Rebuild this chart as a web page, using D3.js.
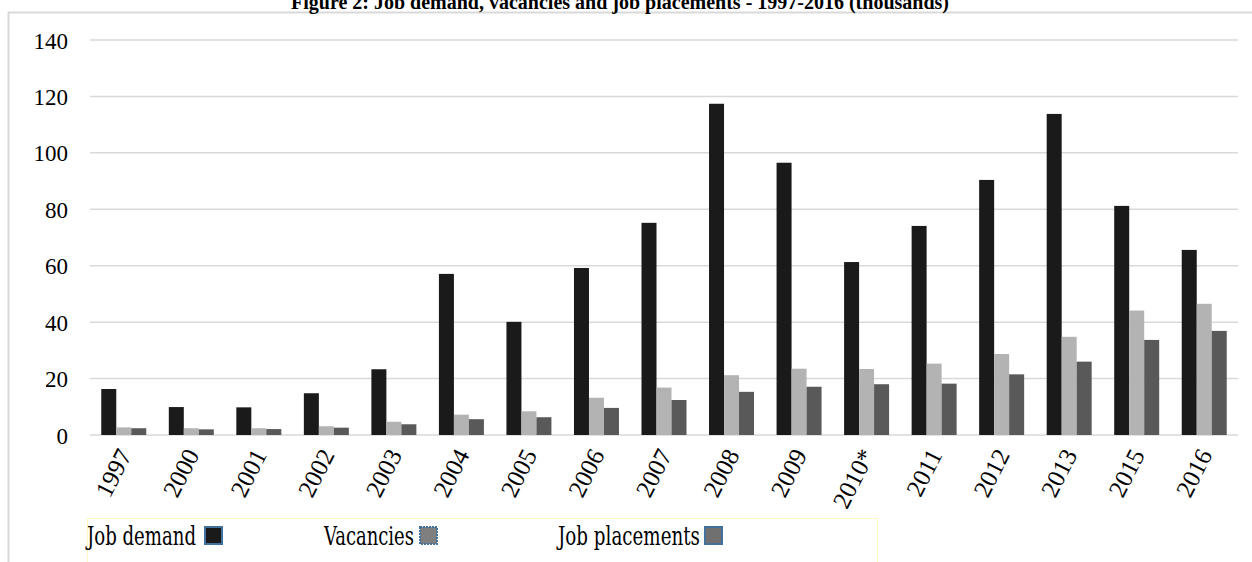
<!DOCTYPE html>
<html><head><meta charset="utf-8">
<script src="https://cdn.jsdelivr.net/npm/d3@7"></script>
<style>body{margin:0;background:#fff;overflow:hidden}svg{display:block}
.serif{font-family:"Liberation Serif","Times New Roman",serif}
.slab{font-family:"DejaVu Serif Condensed","DejaVu Serif",serif}
</style>
</head><body>
<svg id="chart" width="1252" height="562"></svg>
<script>
const years = ["1997","2000","2001","2002","2003","2004","2005","2006","2007","2008","2009","2010*","2011","2012","2013","2015","2016"];
const jobDemand = [16.3,9.9,9.8,14.8,23.3,57.1,40.1,59.2,75.2,117.4,96.5,61.3,74.1,90.4,113.8,81.2,65.6];
const vacancies = [2.7,2.4,2.4,3.1,4.7,7.2,8.4,13.2,16.8,21.2,23.5,23.4,25.3,28.7,34.8,44.1,46.5];
const jobPlacements = [2.4,2.0,2.1,2.6,3.8,5.6,6.3,9.6,12.4,15.3,17.1,18.0,18.2,21.5,26.0,33.7,36.9];
const seriesNames = ["Job demand","Vacancies","Job placements"];
const seriesColors = ["#1a1a1a","#b3b3b3","#595959"];
const yTicks = [0,20,40,60,80,100,120,140];
const title = "Figure 2: Job demand, vacancies and job placements - 1997-2016 (thousands)";

const svg = d3.select("#chart");
const series = [jobDemand, vacancies, jobPlacements];

// outer frame
svg.append("rect").attr("x",8.5).attr("y",12.5).attr("width",1300).attr("height",600)
  .attr("fill","none").attr("stroke","#d9d9d9").attr("stroke-width",2);

// title
svg.append("text").attr("class","serif").attr("x",620).attr("y",9).attr("text-anchor","middle")
  .style("font-weight","bold").style("font-size","20px")
  .text(title);

const x = d3.scaleBand().domain(years).range([90,1238]).paddingInner(0.3337).paddingOuter(0.3337/2);
const xs = d3.scaleBand().domain(seriesNames).range([0,x.bandwidth()]);
const y = d3.scaleLinear().domain([0,140]).range([435,40]);

// gridlines
svg.append("g").selectAll("line").data(yTicks).join("line")
  .attr("x1",90).attr("x2",1238).attr("y1",d=>y(d)).attr("y2",d=>y(d))
  .attr("stroke","#d9d9d9").attr("stroke-width",1.5);

// y axis labels
const yAxis = d3.axisLeft(y).tickValues(yTicks).tickSize(0).tickPadding(0);
const gy = svg.append("g").attr("transform","translate(68,0)").call(yAxis);
gy.attr("font-family",null).attr("font-size",null);
gy.select(".domain").remove();
gy.selectAll("text").attr("class","serif").style("font-size","23px").attr("fill","#000").attr("dy","0.35em");

// bars
const groups = svg.append("g").selectAll("g").data(years).join("g")
  .attr("transform",d=>`translate(${x(d)},0)`);
groups.selectAll("rect").data((d,i)=>series.map((s,k)=>({name:seriesNames[k],v:s[i],c:seriesColors[k]})))
  .join("rect")
  .attr("x",d=>xs(d.name)).attr("width",xs.bandwidth())
  .attr("y",d=>y(d.v)).attr("height",d=>y(0)-y(d.v))
  .attr("fill",d=>d.c);

// x axis labels
const xAxis = d3.axisBottom(x).tickSize(0).tickPadding(0);
const gx = svg.append("g").call(xAxis);
gx.attr("font-family",null).attr("font-size",null);
gx.select(".domain").remove();
gx.selectAll(".tick").attr("transform",d=>`translate(${x(d)+x.bandwidth()/2-6},447)`);
gx.selectAll("text").attr("class","serif").style("font-size","25px").attr("fill","#000")
  .attr("text-anchor","end").attr("transform","rotate(-63)").attr("dy","0.66em").attr("y",0).attr("x",0);

// legend
svg.append("rect").attr("x",87.5).attr("y",518.5).attr("width",790).attr("height",80)
  .attr("fill","none").attr("stroke","#fff7c0").attr("stroke-width",1);
const legendItems = [
  {name:seriesNames[0], tx:87, tw:109, sx:205, color:seriesColors[0], dash:null},
  {name:seriesNames[1], tx:324, tw:90, sx:420, color:"#7f7f7f", dash:"2,1"},
  {name:seriesNames[2], tx:558, tw:142, sx:705, color:"#707070", dash:null}
];
const lg = svg.append("g").selectAll("g").data(legendItems).join("g");
lg.append("text").attr("class","slab").attr("x",d=>d.tx).attr("y",545)
  .style("font-size","26px").attr("fill","#000")
  .attr("textLength",d=>d.tw).attr("lengthAdjust","spacingAndGlyphs").text(d=>d.name);
lg.append("rect").attr("x",d=>d.sx).attr("y",527).attr("width",17).attr("height",17)
  .attr("fill",d=>d.color).attr("stroke","#41719c").attr("stroke-width",2)
  .attr("stroke-dasharray",d=>d.dash);
</script>
</body></html>
